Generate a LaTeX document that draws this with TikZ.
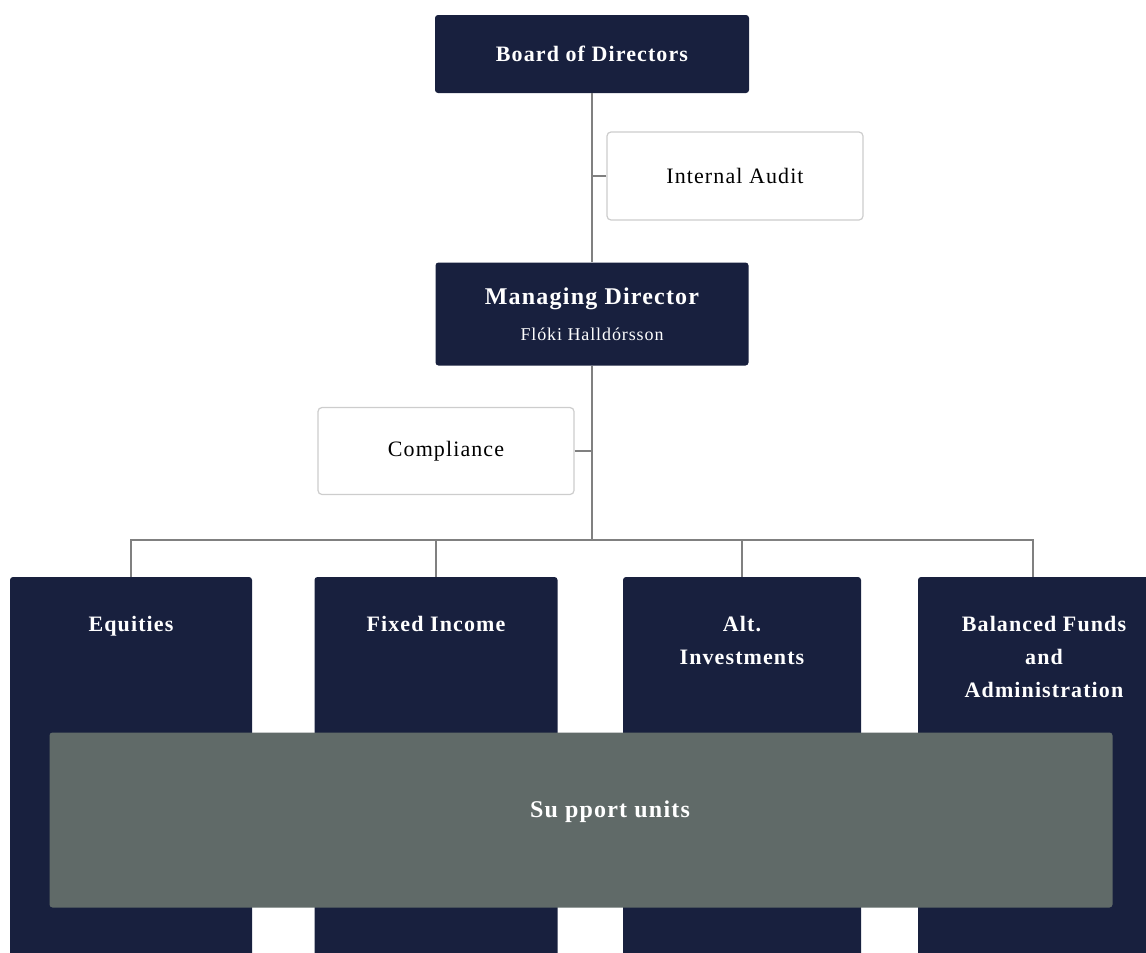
\documentclass[tikz,border=0pt]{standalone}
\usepackage{fontspec}
\setmainfont[LetterSpace=5]{Liberation Serif}
\usetikzlibrary{positioning}

\definecolor{navy}{RGB}{24,32,62}
\definecolor{supportgray}{RGB}{96,106,104}
\definecolor{framegray}{RGB}{205,205,205}
\definecolor{linegray}{RGB}{128,128,128}

\begin{document}
\begin{tikzpicture}[x=1pt, y=-1pt, font=\fontsize{22}{26}\selectfont,
    head/.style={fill=navy, rounded corners=3pt, text=white, font=\fontsize{22}{26}\selectfont\bfseries, align=center, inner sep=0pt},
    staff/.style={draw=framegray, fill=white, rounded corners=4pt, line width=1.2pt, inner sep=0pt, align=center},
    unit/.style={fill=navy, rounded corners=3pt, inner sep=0pt},
    unitlabel/.style={text=white, font=\fontsize{22}{33}\selectfont\bfseries, align=center, inner sep=0pt, anchor=north},
    link/.style={draw=linegray, line width=1.2pt}]

    \useasboundingbox (0,0) rectangle (1146,953);
    \clip (0,0) rectangle (1146,953);

    % top of the chart
    \node[head, minimum width=314pt, minimum height=78pt] (board) at (592,54) {Board of Directors};
    \node[staff, minimum width=256pt, minimum height=88pt] (audit) at (735,176) {Internal Audit};
    \node[head, minimum width=313pt, minimum height=103pt, font=\fontsize{24}{28}\selectfont\bfseries] (md) at (592,314) {Managing Director\\[8pt]{\mdseries\fontsize{18}{22}\selectfont Flóki Halldórsson}};
    \node[staff, minimum width=256pt, minimum height=87pt] (comp) at (446,451) {Compliance};
    \coordinate (bus) at (592,540);

    % business units
    \node[unit, minimum width=242pt, minimum height=410pt] (eq) at (131,782) {};
    \node[unit, minimum width=243pt, minimum height=410pt] (fi) at (436,782) {};
    \node[unit, minimum width=238pt, minimum height=410pt] (alt) at (742,782) {};
    \node[unit, minimum width=252pt, minimum height=410pt] (bal) at (1044,782) {};

    \node[unitlabel, below=39pt of eq.north] (eqtext) {Equities};
    \node[unitlabel, below=39pt of fi.north] (fitext) {Fixed Income};
    \node[unitlabel, below=39pt of alt.north] (alttext) {Alt.\\Investments};
    \node[unitlabel, below=39pt of bal.north] (baltext) {Balanced Funds\\and\\Administration};

    \node[fill=supportgray, rounded corners=3pt, minimum width=1063pt, minimum height=175pt, inner sep=0pt] (support) at (581,820) {};
    \node[text=white, font=\fontsize{24}{28}\selectfont\bfseries, inner sep=0pt] (supporttext) at (610,812) {Su pport units};

    \path[link]
        (board) -- (md)
        (audit.west) -- (audit.west -| board.south)
        (md) -- (bus)
        (comp.east) -- (comp.east -| md.south)
        (eq.north) |- (bus)
        ([xshift=-11pt]bal.north) |- (bus)
        (fi.north) -- (fi.north |- bus)
        (alt.north) -- (alt.north |- bus)
        ;
\end{tikzpicture}
\end{document}
